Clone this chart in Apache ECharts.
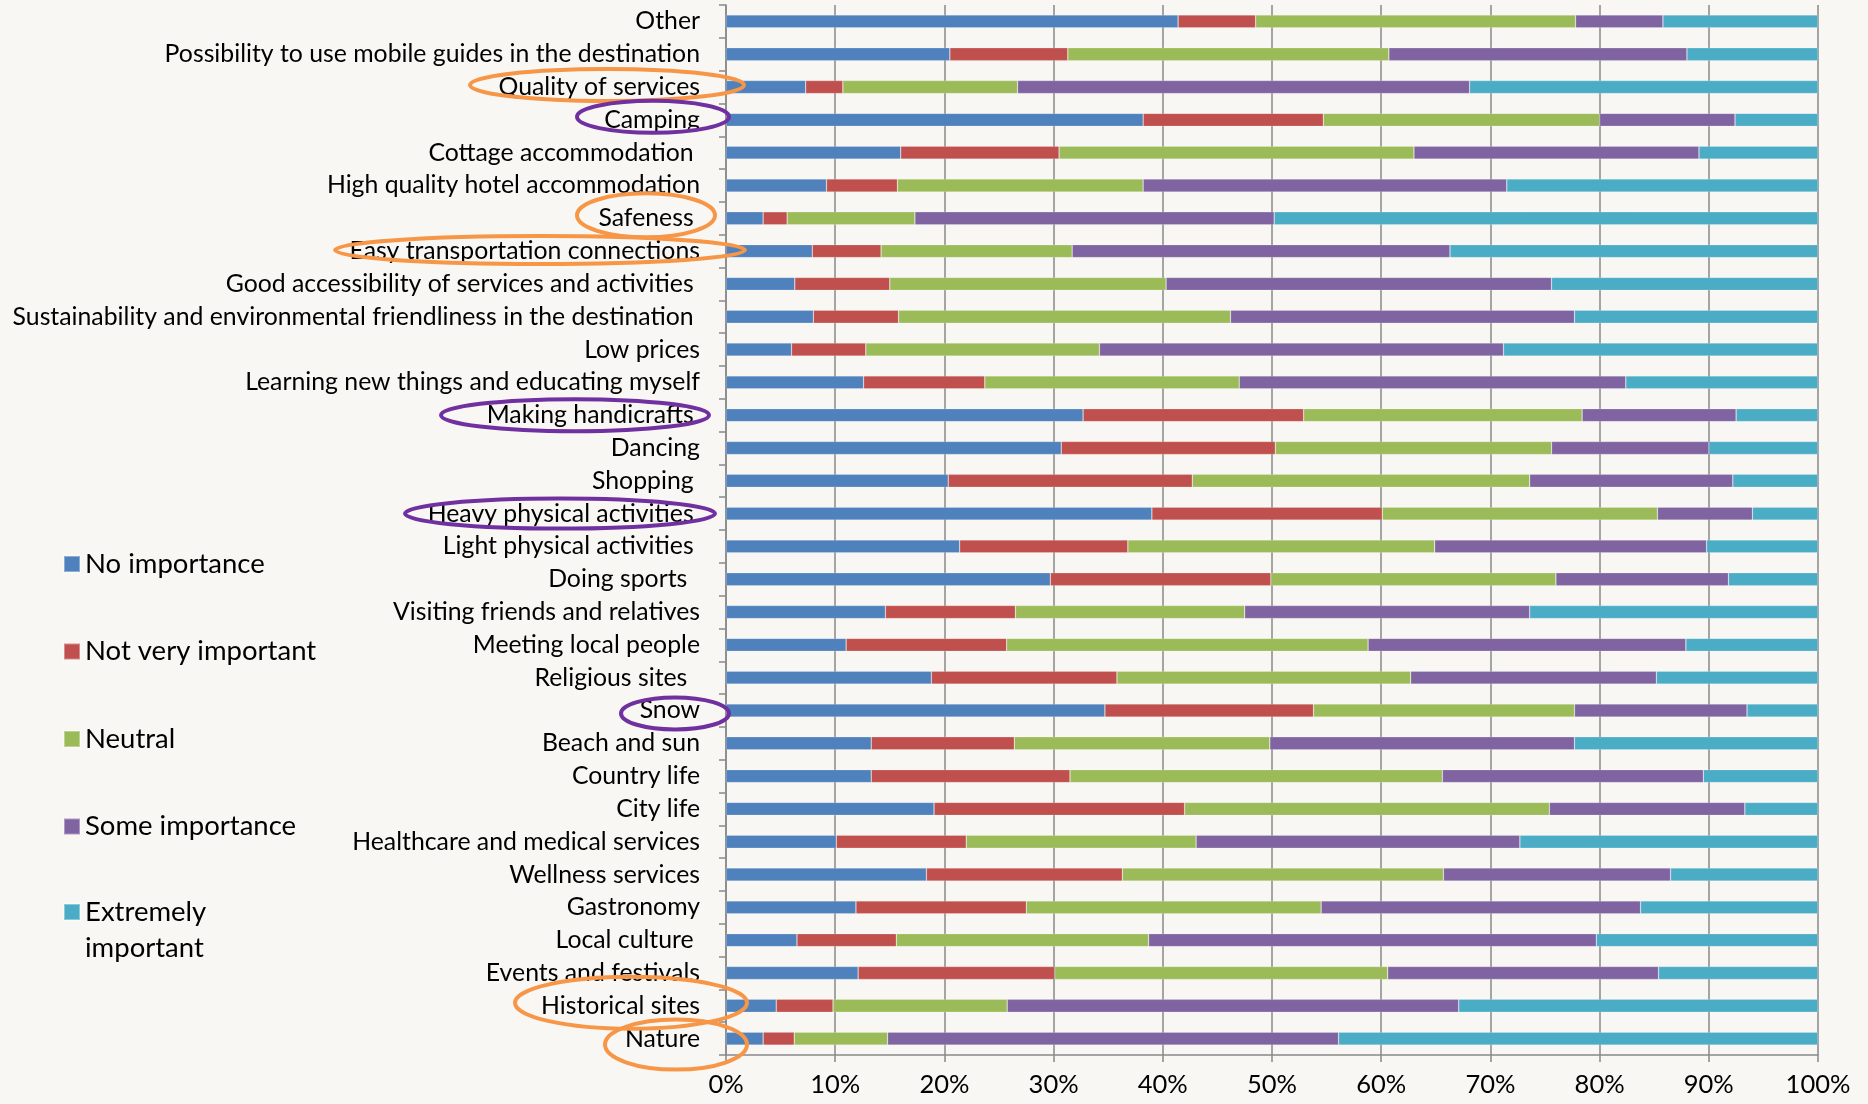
<!DOCTYPE html>
<html>
<head>
<meta charset="utf-8">
<script src="https://cdn.jsdelivr.net/npm/echarts@6/dist/echarts.min.js"></script>
<style>
html,body{margin:0;padding:0;background:#F8F7F4;}
#chart{width:1868px;height:1104px;}
</style>
</head>
<body>
<div id="chart"></div>
<script>
// ---- data (top to bottom) ----
const categories = [
  'Other',
  'Possibility to use mobile guides in the destination',
  'Quality of services',
  'Camping',
  'Cottage accommodation ',
  'High quality hotel accommodation',
  'Safeness ',
  'Easy transportation connections',
  'Good accessibility of services and activities ',
  'Sustainability and environmental friendliness in the destination ',
  'Low prices',
  'Learning new things and educating myself',
  'Making handicrafts ',
  'Dancing',
  'Shopping ',
  'Heavy physical activities ',
  'Light physical activities ',
  'Doing sports  ',
  'Visiting friends and relatives',
  'Meeting local people',
  'Religious sites  ',
  'Snow',
  'Beach and sun',
  'Country life',
  'City life',
  'Healthcare and medical services',
  'Wellness services',
  'Gastronomy',
  'Local culture ',
  'Events and festivals',
  'Historical sites',
  'Nature'
];
const seriesNames = ['No importance', 'Not very important', 'Neutral', 'Some importance', 'Extremely important'];
const noImportance = [41.4, 20.5, 7.3, 38.2, 16.0, 9.2, 3.4, 7.9, 6.3, 8.0, 6.0, 12.6, 32.7, 30.7, 20.35, 39.0, 21.4, 29.7, 14.6, 11.0, 18.8, 34.7, 13.3, 13.3, 19.05, 10.1, 18.35, 11.9, 6.5, 12.1, 4.6, 3.4];
const notVeryImportant = [7.1, 10.8, 3.4, 16.5, 14.5, 6.5, 2.2, 6.3, 8.7, 7.8, 6.8, 11.1, 20.2, 19.6, 22.35, 21.1, 15.4, 20.2, 11.9, 14.7, 17.0, 19.1, 13.1, 18.2, 22.95, 11.9, 17.95, 15.6, 9.1, 18.0, 5.2, 2.85];
const neutral = [29.3, 29.4, 16.0, 25.3, 32.5, 22.5, 11.7, 17.5, 25.3, 30.4, 21.4, 23.3, 25.5, 25.3, 30.9, 25.2, 28.1, 26.1, 21.0, 33.1, 26.9, 23.9, 23.4, 34.1, 33.4, 21.05, 29.4, 27.0, 23.1, 30.5, 15.95, 8.55];
const someImportance = [8.0, 27.3, 41.4, 12.4, 26.1, 33.3, 32.9, 34.6, 35.3, 31.5, 37.0, 35.4, 14.1, 14.4, 18.6, 8.7, 24.9, 15.8, 26.1, 29.1, 22.5, 15.8, 27.9, 23.9, 17.9, 29.65, 20.8, 29.25, 41.0, 24.8, 41.35, 41.3];
const extremelyImportant = [14.2, 12.0, 31.9, 7.6, 10.9, 28.5, 49.8, 33.7, 24.4, 22.3, 28.8, 17.6, 7.5, 10.0, 7.8, 6.0, 10.2, 8.2, 26.4, 12.1, 14.8, 6.5, 22.3, 10.5, 6.7, 27.3, 13.5, 16.25, 20.3, 14.6, 32.9, 43.9];
const xTickValues = [0, 10, 20, 30, 40, 50, 60, 70, 80, 90, 100];
const circledOrange = ['Quality of services', 'Safeness', 'Easy transportation connections', 'Historical sites', 'Nature'];
const circledPurple = ['Camping', 'Making handicrafts', 'Heavy physical activities', 'Snow'];

// ---- styling / layout ----
const colors = ['#4F81BD', '#C0504D', '#9BBB59', '#8064A2', '#4BACC6'];
const FONT = 'Lato';
const gridColor = '#898989';
// annotation ellipse geometry (pixels, relative to category row centre)
const ellipseLayout = {
  'Quality of services': {cx: 607, rx: 137, ry: 16, dy: -2},
  'Camping': {cx: 653, rx: 76, ry: 16, dy: -3},
  'Safeness': {cx: 646, rx: 69, ry: 22, dy: -3},
  'Easy transportation connections': {cx: 540, rx: 205, ry: 14, dy: -1},
  'Making handicrafts': {cx: 575, rx: 134, ry: 16, dy: 0},
  'Heavy physical activities': {cx: 560, rx: 155, ry: 15, dy: 0},
  'Snow': {cx: 675, rx: 54, ry: 16, dy: 3},
  'Historical sites': {cx: 631, rx: 116, ry: 26, dy: -3},
  'Nature': {cx: 676, rx: 71, ry: 25, dy: 6}
};

const allValues = [noImportance, notVeryImportant, neutral, someImportance, extremelyImportant];

const chart = echarts.init(document.getElementById('chart'), null, {renderer: 'canvas'});
const option = {
  backgroundColor: '#F8F7F4',
  animation: false,
  textStyle: {fontFamily: FONT},
  grid: {left: 726, right: 50, top: 5, bottom: 49, containLabel: false},
  legend: [
    {
      orient: 'vertical',
      left: 63,
      top: 549,
      padding: 0,
      itemWidth: 16,
      itemHeight: 16,
      itemGap: 57.5,
      icon: 'rect',
      data: seriesNames.slice(0, 4),
      textStyle: {fontFamily: FONT, fontSize: 27.5, color: '#000', lineHeight: 30},
      selectedMode: false
    },
    {
      orient: 'vertical',
      left: 63,
      top: 858,
      padding: 0,
      itemWidth: 16,
      itemHeight: 16,
      icon: 'rect',
      data: [seriesNames[4]],
      // first text line sits level with the swatch, second line wraps below
      formatter: function (n) { return '\n' + n.replace(' ', '\n'); },
      textStyle: {fontFamily: FONT, fontSize: 27.5, color: '#000', lineHeight: 36},
      selectedMode: false
    }
  ],
  xAxis: {
    type: 'value',
    min: xTickValues[0],
    max: xTickValues[xTickValues.length - 1],
    interval: xTickValues[1] - xTickValues[0],
    axisLine: {show: true, lineStyle: {color: gridColor, width: 1.5}},
    axisTick: {show: true, length: 7, lineStyle: {color: gridColor, width: 1.5}},
    splitLine: {show: true, lineStyle: {color: gridColor, width: 1.5}},
    axisLabel: {formatter: '{value}%', color: '#000', fontSize: 25.5, fontFamily: FONT, margin: 17}
  },
  yAxis: {
    type: 'category',
    inverse: true,
    data: categories,
    axisLine: {show: true, lineStyle: {color: gridColor, width: 1.5}},
    axisTick: {show: true, length: 7, lineStyle: {color: gridColor, width: 1.5}},
    axisLabel: {color: '#000', fontSize: 24.8, fontFamily: FONT, margin: 26}
  },
  series: seriesNames.map(function (name, i) {
    return {
      name: name,
      type: 'bar',
      stack: 'total',
      barWidth: 13,
      data: allValues[i],
      itemStyle: {color: colors[i], borderColor: 'rgba(255,255,255,0.35)', borderWidth: 0.6}
    };
  })
};
chart.setOption(option);

// annotation ellipses positioned on the category rows
const ellipses = [];
function addEllipses(list, color) {
  list.forEach(function (name) {
    const idx = categories.findIndex(function (c) { return c.trim() === name; });
    const cy = chart.convertToPixel({yAxisIndex: 0}, idx);
    const g = ellipseLayout[name];
    ellipses.push({
      type: 'ellipse',
      z: 100,
      shape: {cx: g.cx, cy: cy + g.dy, rx: g.rx, ry: g.ry},
      style: {fill: 'none', stroke: color, lineWidth: 4}
    });
  });
}
addEllipses(circledOrange, '#F79646');
addEllipses(circledPurple, '#7030A0');
chart.setOption({graphic: ellipses});
</script>
</body>
</html>
